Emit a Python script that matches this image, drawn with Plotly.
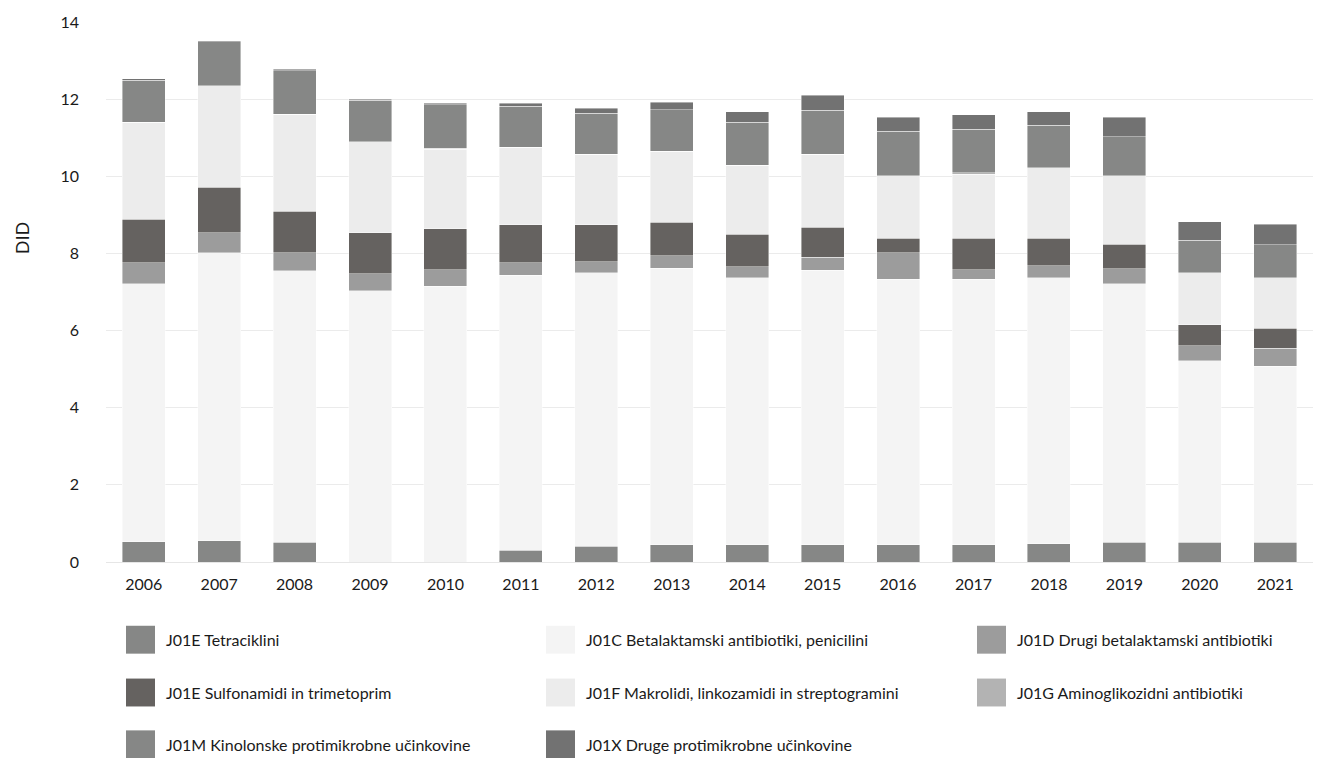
import plotly.graph_objects as go

years = ["2006", "2007", "2008", "2009", "2010", "2011", "2012", "2013",
         "2014", "2015", "2016", "2017", "2018", "2019", "2020", "2021"]

series_names = [
    "J01E Tetraciklini",
    "J01C Betalaktamski antibiotiki, penicilini",
    "J01D Drugi betalaktamski antibiotiki",
    "J01E Sulfonamidi in trimetoprim",
    "J01F Makrolidi, linkozamidi in streptogramini",
    "J01G Aminoglikozidni antibiotiki",
    "J01M Kinolonske protimikrobne učinkovine",
    "J01X Druge protimikrobne učinkovine",
]

tetraciklini = [0.52, 0.55, 0.51, 0.00, 0.00, 0.31, 0.41, 0.45, 0.45, 0.45, 0.45, 0.45, 0.47, 0.51, 0.51, 0.51]
penicilini   = [6.69, 7.47, 7.04, 7.03, 7.15, 7.13, 7.09, 7.16, 6.92, 7.12, 6.88, 6.88, 6.90, 6.70, 4.71, 4.57]
drugi_beta   = [0.55, 0.51, 0.47, 0.44, 0.43, 0.32, 0.28, 0.33, 0.28, 0.33, 0.69, 0.25, 0.31, 0.39, 0.39, 0.46]
sulfonamidi  = [1.13, 1.18, 1.08, 1.06, 1.06, 0.98, 0.96, 0.87, 0.85, 0.78, 0.38, 0.82, 0.72, 0.64, 0.54, 0.52]
makrolidi    = [2.51, 2.64, 2.51, 2.37, 2.06, 2.01, 1.83, 1.84, 1.78, 1.89, 1.62, 1.65, 1.82, 1.78, 1.35, 1.31]
aminoglik    = [0.00, 0.00, 0.00, 0.00, 0.03, 0.00, 0.00, 0.00, 0.00, 0.00, 0.00, 0.04, 0.00, 0.00, 0.00, 0.00]
kinolonske   = [1.09, 1.14, 1.12, 1.07, 1.13, 1.07, 1.07, 1.08, 1.12, 1.14, 1.15, 1.13, 1.10, 1.01, 0.84, 0.85]
druge        = [0.04, 0.03, 0.04, 0.03, 0.03, 0.07, 0.13, 0.19, 0.27, 0.39, 0.36, 0.38, 0.35, 0.50, 0.48, 0.54]

series_values = [tetraciklini, penicilini, drugi_beta, sulfonamidi,
                 makrolidi, aminoglik, kinolonske, druge]
colors = ["#868786", "#f4f4f4", "#9c9c9c", "#656260",
          "#ececec", "#b3b3b3", "#868786", "#727272"]

y_ticks = [0, 2, 4, 6, 8, 10, 12, 14]
y_title = "DID"

FONT = "Lato, 'Open Sans', sans-serif"
TXT = "#1a1a1a"
W, H = 1326, 758
L, R, T, B = 106, 13, 20, 196

fig = go.Figure()
for name, vals, col in zip(series_names, series_values, colors):
    fig.add_trace(go.Bar(
        x=years, y=vals, name=name,
        marker=dict(color=col, line=dict(color="rgba(255,255,255,0.7)", width=0.6)),
        showlegend=False,
    ))

def px_x(px):
    return (px - L) / (W - L - R)

def px_y(py):
    return (H - B - py) / (H - T - B)

# manual legend (3 columns, row-major)
col_x = [126, 546, 977]
row_y = [626, 679, 731]
sw, sh = 29, 28
shapes = []
annotations = []
for i, (name, col) in enumerate(zip(series_names, colors)):
    r, c = divmod(i, 3)
    x0 = col_x[c]
    y0 = row_y[r]
    shapes.append(dict(type="rect", xref="paper", yref="paper",
                       x0=px_x(x0), x1=px_x(x0 + sw),
                       y0=px_y(y0 + sh), y1=px_y(y0),
                       fillcolor=col, line=dict(width=0)))
    annotations.append(dict(xref="paper", yref="paper",
                            x=px_x(x0 + sw + 9), y=px_y(y0 + sh / 2),
                            xanchor="left", yanchor="middle", showarrow=False,
                            text=name, font=dict(family=FONT, size=16, color=TXT)))

annotations.append(dict(xref="paper", yref="paper", x=px_x(22), y=px_y(237),
                        xanchor="center", yanchor="middle", showarrow=False,
                        text=y_title, textangle=-90,
                        font=dict(family=FONT, size=18, color=TXT)))

fig.update_layout(
    width=W, height=H,
    margin=dict(l=L, r=R, t=T, b=B),
    barmode="stack",
    bargap=0.43,
    plot_bgcolor="white",
    paper_bgcolor="white",
    font=dict(family=FONT, size=16, color=TXT),
    shapes=shapes,
    annotations=annotations,
    xaxis=dict(type="category", showgrid=False, showline=True, linecolor="#e6e6e6",
               linewidth=1, ticks="", tickfont=dict(size=16), ticklabelstandoff=8),
    yaxis=dict(range=[0, 14], tickvals=y_ticks, showgrid=True, gridcolor="#ebebeb",
               gridwidth=1, zeroline=False, ticks="", ticklabelstandoff=26,
               tickfont=dict(size=16)),
)

fig.write_html("out.html")
